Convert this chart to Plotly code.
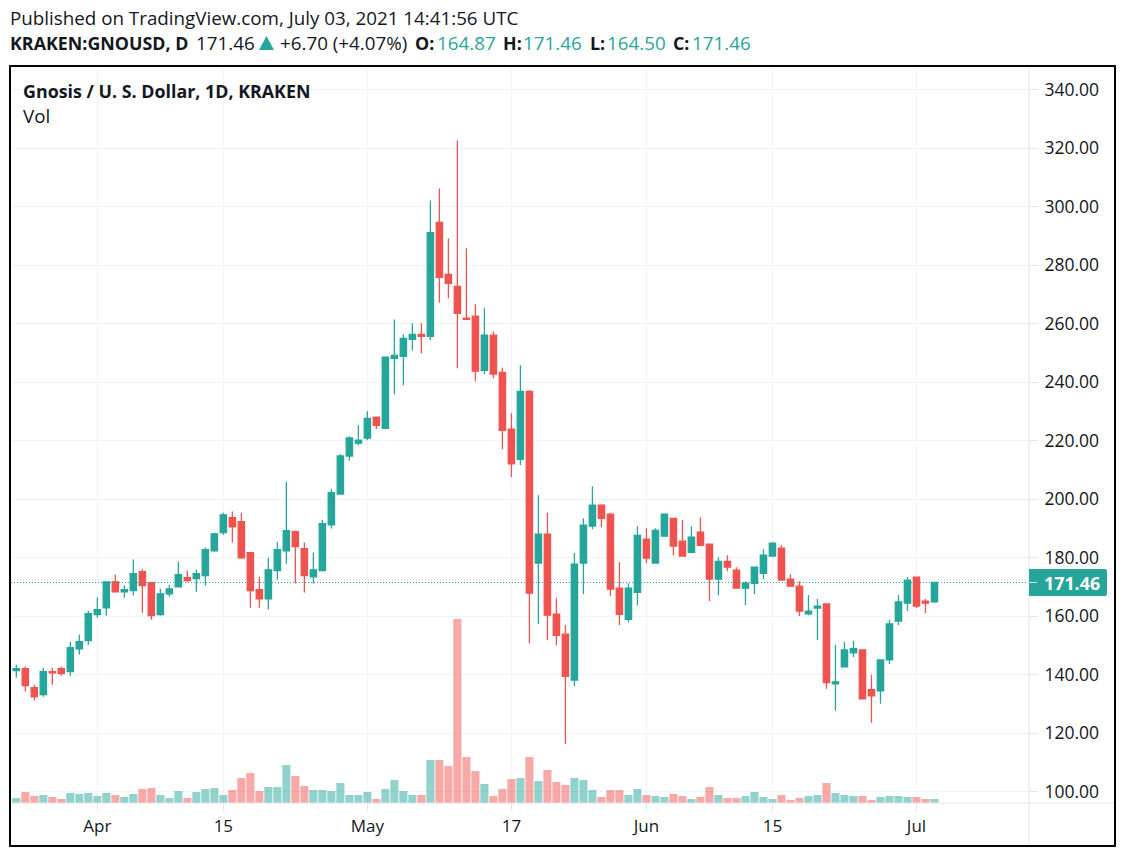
import pandas as pd
import plotly.graph_objects as go

# daily candles, first bar is 2021-03-23
first_day = "2021-03-23"
opens = [141.3, 142.0, 135.5, 133.1, 141.0, 142.0, 141.0, 148.8, 151.6, 160.5,
         162.8, 171.7, 168.3, 168.7, 175.2, 171.4, 160.5, 167.6, 170.0, 173.1,
         172.8, 173.8, 182.3, 188.5, 193.6, 192.3, 181.7, 169.0, 165.9, 175.5,
         182.3, 188.8, 183.0, 173.4, 175.5, 191.2, 201.7, 214.7, 219.1, 220.8,
         228.0, 224.2, 248.1, 248.8, 254.6, 256.3, 255.6, 294.6, 276.8, 272.7,
         261.8, 262.5, 244.0, 256.0, 243.3, 223.9, 213.6, 236.8, 178.1, 188.0,
         160.6, 153.8, 138.1, 178.1, 190.7, 197.9, 194.8, 169.5, 158.9, 168.1,
         186.3, 178.1, 187.3, 193.4, 185.6, 181.8, 188.7, 184.6, 172.6, 178.7,
         175.7, 169.5, 171.2, 174.6, 180.5, 183.2, 172.6, 170.2, 160.7, 162.7,
         164.1, 136.8, 142.6, 147.4, 148.4, 134.8, 134.4, 145.0, 158.3, 164.4,
         173.3, 165.1, 164.87]
highs = [143.4, 142.7, 136.5, 142.3, 142.3, 142.7, 151.2, 153.6, 161.8, 166.3,
         171.7, 174.1, 170.4, 179.3, 176.2, 171.7, 169.3, 170.7, 178.6, 175.5,
         175.8, 183.4, 188.5, 195.3, 195.7, 195.3, 181.7, 173.4, 179.9, 185.4,
         205.9, 189.2, 185.1, 181.7, 192.9, 203.5, 215.4, 221.5, 225.2, 230.0,
         228.0, 248.5, 261.4, 256.3, 260.1, 260.1, 302.1, 306.2, 289.1, 322.6,
         285.7, 266.6, 265.2, 257.3, 245.0, 229.3, 245.7, 237.2, 201.3, 195.2,
         166.1, 156.9, 181.5, 193.4, 204.4, 198.2, 195.2, 178.4, 171.2, 190.7,
         190.0, 190.0, 194.8, 193.4, 192.8, 190.7, 193.8, 184.6, 180.1, 180.8,
         176.7, 171.9, 176.7, 182.8, 185.2, 184.2, 174.3, 171.9, 167.2, 165.8,
         164.1, 150.1, 151.1, 151.5, 148.4, 139.9, 145.0, 158.6, 167.2, 173.3,
         173.3, 165.8, 171.46]
lows = [138.9, 134.1, 131.1, 132.4, 136.5, 139.6, 139.6, 146.8, 150.2, 159.4,
        160.1, 168.0, 166.3, 167.0, 161.1, 158.7, 160.1, 166.6, 170.0, 171.7,
        168.3, 170.4, 182.0, 187.8, 185.1, 179.6, 162.8, 162.8, 162.2, 172.4,
        177.9, 171.1, 168.0, 171.1, 175.5, 189.9, 201.7, 213.1, 218.4, 220.1,
        223.9, 224.2, 235.8, 238.9, 250.8, 249.8, 254.3, 267.2, 268.6, 244.7,
        261.1, 240.3, 242.7, 241.3, 217.0, 207.5, 211.6, 150.7, 157.2, 151.7,
        150.0, 116.2, 136.0, 167.5, 189.7, 190.4, 166.8, 156.9, 157.9, 163.7,
        178.1, 178.1, 187.3, 180.8, 180.5, 181.8, 184.2, 165.1, 167.1, 175.3,
        169.5, 163.7, 167.5, 172.6, 180.5, 172.3, 170.2, 160.0, 160.3, 151.8,
        135.1, 127.6, 142.6, 146.0, 131.7, 123.5, 130.0, 143.6, 156.9, 161.7,
        162.7, 161.0, 164.5]
closes = [142.0, 136.2, 132.4, 141.0, 140.6, 140.3, 149.2, 151.2, 160.8, 162.2,
          171.7, 168.3, 169.0, 174.5, 170.4, 160.1, 167.6, 169.3, 174.1, 172.1,
          174.5, 182.7, 188.1, 194.6, 190.5, 179.9, 168.7, 165.9, 175.8, 182.7,
          189.2, 183.7, 173.8, 175.8, 191.6, 202.2, 214.7, 220.9, 220.1, 227.6,
          225.2, 248.5, 249.1, 254.9, 256.3, 255.6, 291.1, 275.8, 273.7, 263.5,
          261.4, 243.7, 256.0, 242.7, 223.5, 212.0, 236.8, 167.8, 188.0, 160.3,
          153.4, 139.4, 177.7, 191.1, 197.9, 193.4, 169.2, 160.6, 169.5, 187.6,
          179.8, 189.3, 194.8, 183.9, 180.5, 187.0, 184.2, 172.6, 178.7, 176.7,
          169.5, 171.2, 176.7, 180.8, 184.9, 172.3, 170.2, 161.7, 161.7, 163.4,
          137.2, 137.5, 148.4, 148.8, 131.7, 132.7, 145.0, 157.3, 164.8, 172.3,
          163.4, 164.4, 171.46]
# volume in arbitrary units, peak is the 12 May bar
volumes = [5, 11, 7, 8, 6, 4, 10, 9, 10, 7, 10, 8, 6, 9, 14, 15, 8, 5, 12, 5,
           11, 14, 15, 8, 13, 25, 30, 12, 16, 16, 38, 27, 17, 13, 13, 12, 20, 8, 8, 11,
           4, 14, 23, 12, 8, 8, 43, 43, 37, 184, 46, 32, 19, 7, 14, 24, 25, 46, 22, 33,
           21, 18, 25, 23, 13, 6, 13, 13, 8, 14, 8, 7, 6, 9, 7, 4, 6, 16, 8, 5,
           5, 7, 11, 6, 4, 8, 3, 5, 7, 8, 20, 10, 8, 7, 7, 3, 6, 7, 7, 6,
           6, 4, 4]
tick_dates = ["2021-04-01", "2021-04-15", "2021-05-01", "2021-05-17", "2021-06-01", "2021-06-15", "2021-07-01"]
tick_labels = ["Apr", "15", "May", "17", "Jun", "15", "Jul"]
price_ticks = list(range(100, 341, 20))

UP = "#26a69a"
DOWN = "#ef5350"
INK = "#131722"
GRID = "#f0f3fa"
EDGE = "#e0e3eb"
FONT = "Open Sans"

W, H = 1124, 856
# plot area in page pixels
L, R, T, B = 11, 1029, 67, 803


def px_x(x):
    return (x - L) / (R - L)


def px_y(y):
    return (B - y) / (B - T)


dates = pd.date_range(first_day, periods=len(closes))
bar_colors = [UP if c >= o else DOWN for o, c in zip(opens, closes)]

fig = go.Figure()
fig.add_trace(go.Bar(x=dates, y=volumes, marker=dict(color=bar_colors, opacity=0.5, line_width=0),
                     yaxis="y", hoverinfo="skip"))
fig.add_trace(go.Candlestick(x=dates, open=opens, high=highs, low=lows, close=closes, yaxis="y2",
                             whiskerwidth=0,
                             increasing=dict(line=dict(color=UP, width=1.3), fillcolor=UP),
                             decreasing=dict(line=dict(color=DOWN, width=1.3), fillcolor=DOWN)))

shapes = [
    # last price line
    dict(type="line", xref="paper", yref="y2", x0=0, x1=1, y0=closes[-1], y1=closes[-1],
         line=dict(color=UP, width=1, dash="1px,2px")),
    # pane separators
    dict(type="line", xref="paper", yref="paper", x0=1, x1=1, y0=px_y(66), y1=px_y(845),
         line=dict(color=EDGE, width=1)),
    dict(type="line", xref="paper", yref="paper", x0=0, x1=px_x(1115), y0=0, y1=0,
         line=dict(color=EDGE, width=1)),
    # outer frame
    dict(type="rect", xref="paper", yref="paper", x0=px_x(10), x1=px_x(1115), y0=px_y(66), y1=px_y(846),
         line=dict(color="black", width=2)),
    # price label box
    dict(type="path", xref="paper", yref="paper", fillcolor=UP, line_width=0,
         path=f"M {px_x(1029)} {px_y(569)} L {px_x(1105)} {px_y(569)} "
              f"Q {px_x(1107)} {px_y(569)} {px_x(1107)} {px_y(571)} "
              f"L {px_x(1107)} {px_y(594)} Q {px_x(1107)} {px_y(596)} {px_x(1105)} {px_y(596)} "
              f"L {px_x(1029)} {px_y(596)} Z"),
    # tick across the price label
    dict(type="line", xref="paper", yref="y2", x0=1, x1=px_x(1037), y0=closes[-1], y1=closes[-1],
         line=dict(color=EDGE, width=1)),
    # up arrow in the header
    dict(type="path", xref="paper", yref="paper", fillcolor=UP, line_width=0,
         path=f"M {px_x(259)} {px_y(50)} L {px_x(274)} {px_y(50)} L {px_x(266.5)} {px_y(36)} Z"),
]


def label(x, y, text, size=18.8, color=INK, bold=False):
    if bold:
        text = f"<b>{text}</b>"
        size = min(size, 17.85)
    return dict(xref="paper", yref="paper", x=px_x(x), y=px_y(y), text=text, showarrow=False,
                xanchor="left", yanchor="middle", borderpad=0, borderwidth=0,
                font=dict(family=FONT, size=size, color=color))


annotations = [
    label(10, 18, "Published on TradingView.com, July 03, 2021 14:41:56 UTC"),
    label(10, 43, "KRAKEN:GNOUSD, D", bold=True),
    label(196, 43, f"{closes[-1]:.2f}"),
    label(280, 43, "+6.70 (+4.07%)"),
    label(415, 43, "O:", bold=True),
    label(437, 43, f"{opens[-1]:.2f}", color=UP),
    label(503, 43, "H:", bold=True),
    label(523, 43, f"{highs[-1]:.2f}", color=UP),
    label(590, 43, "L:", bold=True),
    label(607, 43, f"{lows[-1]:.2f}", color=UP),
    label(673, 43, "C:", bold=True),
    label(692, 43, f"{closes[-1]:.2f}", color=UP),
    label(23, 91, "Gnosis / U. S. Dollar, 1D, KRAKEN", bold=True),
    label(23, 116, "Vol"),
    label(1044, 583, f"{closes[-1]:.2f}", color="white", bold=True),
]

fig.update_layout(
    width=W, height=H, autosize=False,
    margin=dict(l=L, r=W - R, t=T, b=H - B, pad=0),
    paper_bgcolor="white", plot_bgcolor="white",
    showlegend=False, boxgap=0, bargap=0.1,
    font=dict(family=FONT, size=17, color=INK),
    shapes=shapes, annotations=annotations,
    xaxis=dict(type="date", range=["2021-03-22 09:50", "2021-07-13 12:00"],
               tickmode="array", tickvals=tick_dates, ticktext=tick_labels, tickangle=0,
               showgrid=True, gridcolor=GRID, gridwidth=1, zeroline=False, showline=False,
               ticks="outside", ticklen=7, tickcolor=EDGE, rangeslider=dict(visible=False),
               ticklabelstandoff=1,
               tickfont=dict(family=FONT, size=17, color=INK)),
    # volume scale, hidden, tallest bar stops at a quarter of the pane
    yaxis=dict(range=[0, 736], visible=False, fixedrange=True),
    yaxis2=dict(overlaying="y", side="right", range=[96.07, 347.7], tickvals=price_ticks,
                tickformat=".2f", showgrid=True, gridcolor=GRID, gridwidth=1, zeroline=False,
                showline=False, ticks="outside", ticklen=8, tickcolor=EDGE, ticklabelstandoff=3,
                tickfont=dict(family=FONT, size=17.5, color=INK)),
)

fig.write_html("out.html", config=dict(displayModeBar=False),
               post_script="document.body.style.margin='0';")
